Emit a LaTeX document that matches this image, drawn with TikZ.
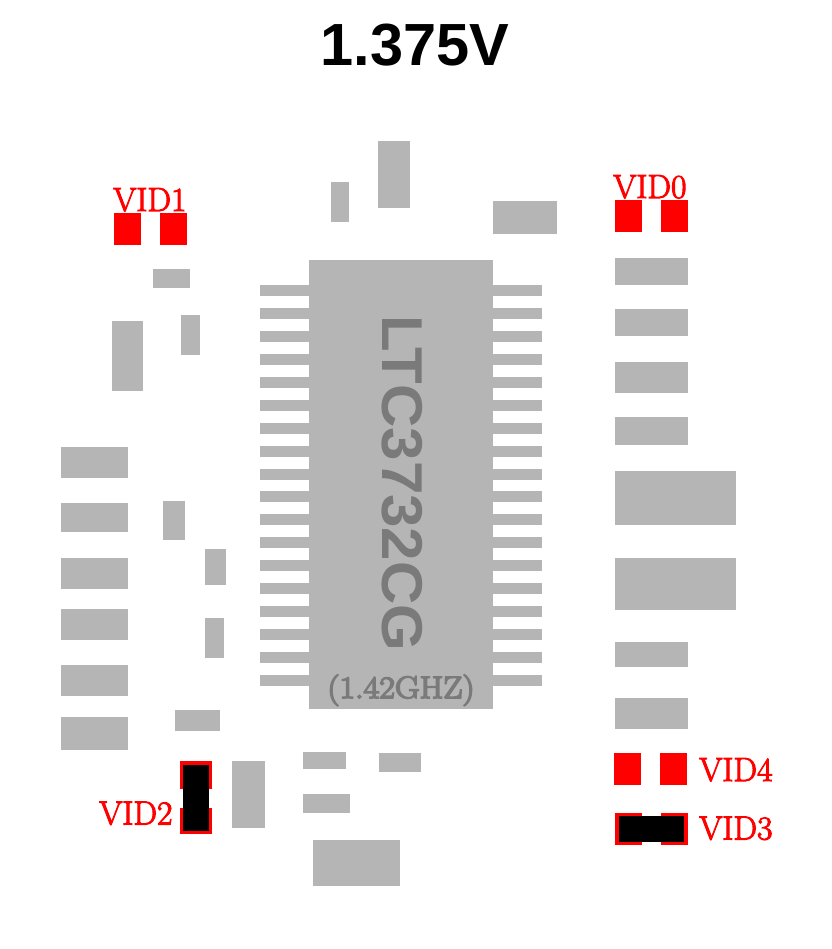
\documentclass[tikz,border=0pt]{standalone}
\usepackage{fontspec}
\usepackage{graphicx}
\newfontfamily\sansb{Liberation Sans}
\newfontfamily\lmheavy[FakeBold=3]{Latin Modern Roman}
\newfontfamily\lmheavier[FakeBold=5]{Latin Modern Roman}
\definecolor{padgray}{HTML}{B5B5B5}
\definecolor{inkgray}{HTML}{7A7A7A}
\tikzset{
  x=1pt,y=-1pt,
  part/.style={fill=padgray,draw=none},
  pad/.style={fill=red,draw=none},
  jumper/.style={fill=black,draw=none},
  vid/.style={text=red,inner sep=0pt,anchor=base west,font=\lmheavy\fontsize{33.5}{33.5}\selectfont},
}
\newcommand{\pcb}[5]{\fill[#1] (#2,#3) rectangle (#4,#5);}
\begin{document}
\begin{tikzpicture}
\useasboundingbox (0,0) rectangle (831,949);
\fill[white] (0,0) rectangle (831,949);
% title
\node[inner sep=0pt,anchor=base] (title) at (415,66) {\sansb\bfseries\fontsize{59.5}{59.5}\selectfont 1.375V};
% chip
\pcb{part}{309}{260}{493}{709}
\foreach \i in {0,...,17}{
  \pgfmathsetmacro{\yy}{285+22.94*\i}
  \fill[part] (260,\yy) rectangle (309,\yy+11);
  \fill[part] (493,\yy) rectangle (542,\yy+11);
}
\node[inner sep=0pt,text=inkgray,rotate=-90] (chipname) at (402,483.5) {\scalebox{1.0}[0.96]{\sansb\bfseries\fontsize{60}{60}\selectfont LTC3732CG}};
\node[inner sep=0pt,text=inkgray,anchor=base] (freq) at (401,698) {\scalebox{1.1}[1]{\lmheavier\fontsize{31}{31}\selectfont (1.42GHZ)}};
% top parts
\pcb{part}{378}{141}{410}{208}
\pcb{part}{331}{182}{349}{222}
\pcb{part}{493}{201}{557}{234}
% left parts
\pcb{part}{153}{269}{190}{288}
\pcb{part}{181}{315}{200}{355}
\pcb{part}{112}{321}{143}{391}
\pcb{part}{61}{447}{128}{478}
\pcb{part}{61}{503}{128}{532}
\pcb{part}{61}{558}{128}{589}
\pcb{part}{61}{609}{128}{640}
\pcb{part}{61}{665}{128}{696}
\pcb{part}{61}{717}{128}{750}
\pcb{part}{163}{501}{185}{540}
\pcb{part}{205}{549}{226}{585}
\pcb{part}{205}{618}{224}{658}
\pcb{part}{175}{710}{220}{731}
\pcb{part}{232}{761}{265}{828}
% bottom parts
\pcb{part}{303}{752}{346}{769}
\pcb{part}{379}{753}{421}{772}
\pcb{part}{303}{794}{350}{813}
\pcb{part}{313}{840}{400}{886}
% right parts
\pcb{part}{615}{258}{688}{285}
\pcb{part}{615}{309}{688}{336}
\pcb{part}{615}{362}{688}{393}
\pcb{part}{615}{417}{688}{445}
\pcb{part}{615}{471}{736}{525}
\pcb{part}{615}{558}{736}{610}
\pcb{part}{615}{642}{688}{667}
\pcb{part}{615}{698}{688}{729}
% VID pads
\pcb{pad}{114}{213}{141}{245}
\pcb{pad}{160}{213}{187}{245}
\pcb{pad}{615}{200}{642}{232}
\pcb{pad}{661}{200}{688}{232}
\pcb{pad}{614}{753}{641}{785}
\pcb{pad}{660}{753}{687}{785}
\pcb{pad}{615}{813}{642}{845}
\pcb{pad}{661}{813}{688}{845}
\pcb{jumper}{619}{816}{684}{842}
\pcb{pad}{180}{761}{212}{789}
\pcb{pad}{180}{808}{212}{834}
\pcb{jumper}{183}{765}{209}{831}
% labels
\node[vid] (vidone) at (113,211) {VID1};
\node[vid] (vidzero) at (613,198) {VID0};
\node[vid] (vidtwo) at (99,824.5) {VID2};
\node[vid] (vidfour) at (699,781) {VID4};
\node[vid] (vidthree) at (699,839.5) {VID3};
\end{tikzpicture}
\end{document}
